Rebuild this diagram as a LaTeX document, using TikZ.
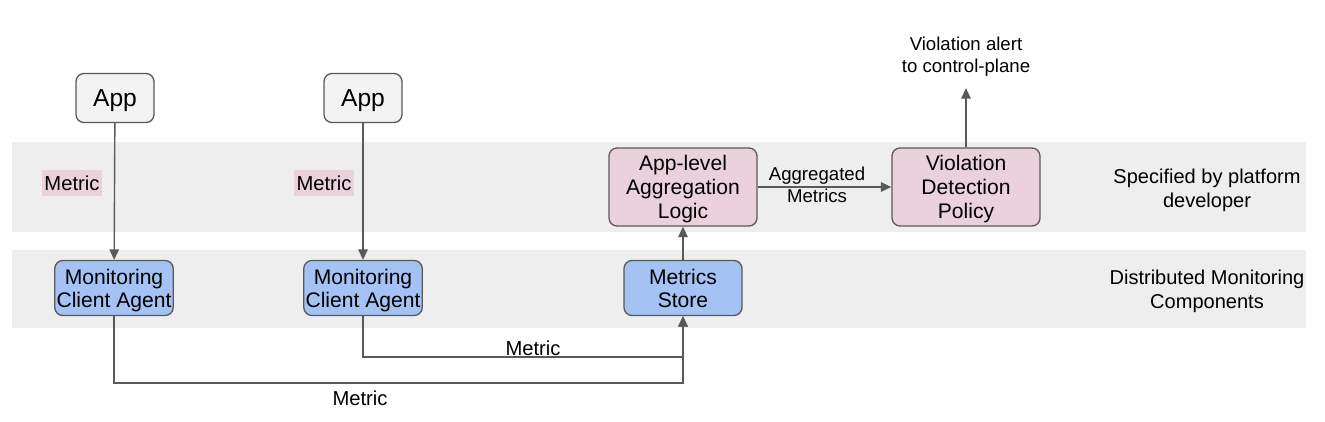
\documentclass[tikz,border=0pt]{standalone}
\usepackage{fontspec}
\setmainfont{Liberation Sans}
\usetikzlibrary{arrows.meta}

\definecolor{bandgray}{HTML}{EEEEEE}
\definecolor{appgray}{HTML}{F3F3F3}
\definecolor{agentblue}{HTML}{A4C2F4}
\definecolor{logicpink}{HTML}{EAD1DC}
\definecolor{linegray}{HTML}{595959}

\tikzset{
  box/.style={draw=linegray, line width=0.75pt, rounded corners=0.16cm, align=center, inner xsep=1pt, inner ysep=2pt, text depth=0pt},
  flow/.style={draw=linegray, line width=0.8pt, -{Triangle[length=0.21cm,width=0.19cm]}},
  small/.style={font=\fontsize{10.6}{12.5}\selectfont, align=center}
}

\begin{document}
\begin{tikzpicture}[x=0.02cm, y=-0.02cm]

        \useasboundingbox (0,0) rectangle (1325,422);

        % the two bands
        \fill[bandgray] (12,142) rectangle (1306,232);
        \fill[bandgray] (12,250) rectangle (1306,328);

        \begin{scope}[every node/.style={box, fill=appgray, font=\fontsize{14}{16}\selectfont, minimum width=1.56cm, minimum height=0.98cm}]
          \node (app1)  at (115,98) {App};
          \node (app2)  at (363,98) {App};
        \end{scope}

        \begin{scope}[every node/.style={box, fill=agentblue, font=\fontsize{12}{13}\selectfont, minimum width=2.36cm, minimum height=1.1cm}]
          \node (mca1)  at (114,288) {Monitoring\\Client Agent};
          \node (mca2)  at (363,288) {Monitoring\\Client Agent};
          \node (store) at (683,288) {Metrics\\Store};
        \end{scope}

        \begin{scope}[every node/.style={box, fill=logicpink, font=\fontsize{12}{13.6}\selectfont, minimum width=2.96cm, minimum height=1.56cm}]
          \node (agg)   at (683,187) {App-level\\Aggregation\\Logic};
          \node (vdp)   at (966,187) {Violation\\Detection\\Policy};
        \end{scope}

        \begin{scope}[every node/.style={font=\fontsize{11.4}{13.6}\selectfont, align=center}]
          \node (devlabel)  at (1207,190) {Specified by platform\\developer};
          \node (distlabel) at (1207,291) {Distributed Monitoring\\Components};
        \end{scope}

        \node[small] (alert) at (966,57) {Violation alert\\to control-plane};
        \node[small] (aggmet) at (817,185) {Aggregated\\Metrics};

        \begin{scope}[every node/.style={fill=logicpink, inner xsep=1.5pt, inner ysep=3pt, font=\fontsize{11.5}{13}\selectfont}]
          \node (met1) at (72,183) {Metric};
          \node (met2) at (324,183) {Metric};
        \end{scope}

        \coordinate (low1) at (683,383);
        \coordinate (low2) at (683,357);

        \path[flow] (app1) -- (mca1);
        \path[flow] (app2) -- (mca2);
        \path[flow] (store) -- (agg);
        \path[flow] (agg) -- (vdp);
        \path[flow] (vdp) -- ([yshift=-3pt]alert.south);
        \path[flow] (mca1.south) |- (low1) -- (store.south);
        \path[flow] (mca2.south) |- (low2) -- (store.south);

        \node[font=\fontsize{11.5}{13}\selectfont] (met3) at (360,398) {Metric};
        \node[font=\fontsize{11.5}{13}\selectfont] (met4) at (533,348) {Metric};

      \end{tikzpicture}
\end{document}
